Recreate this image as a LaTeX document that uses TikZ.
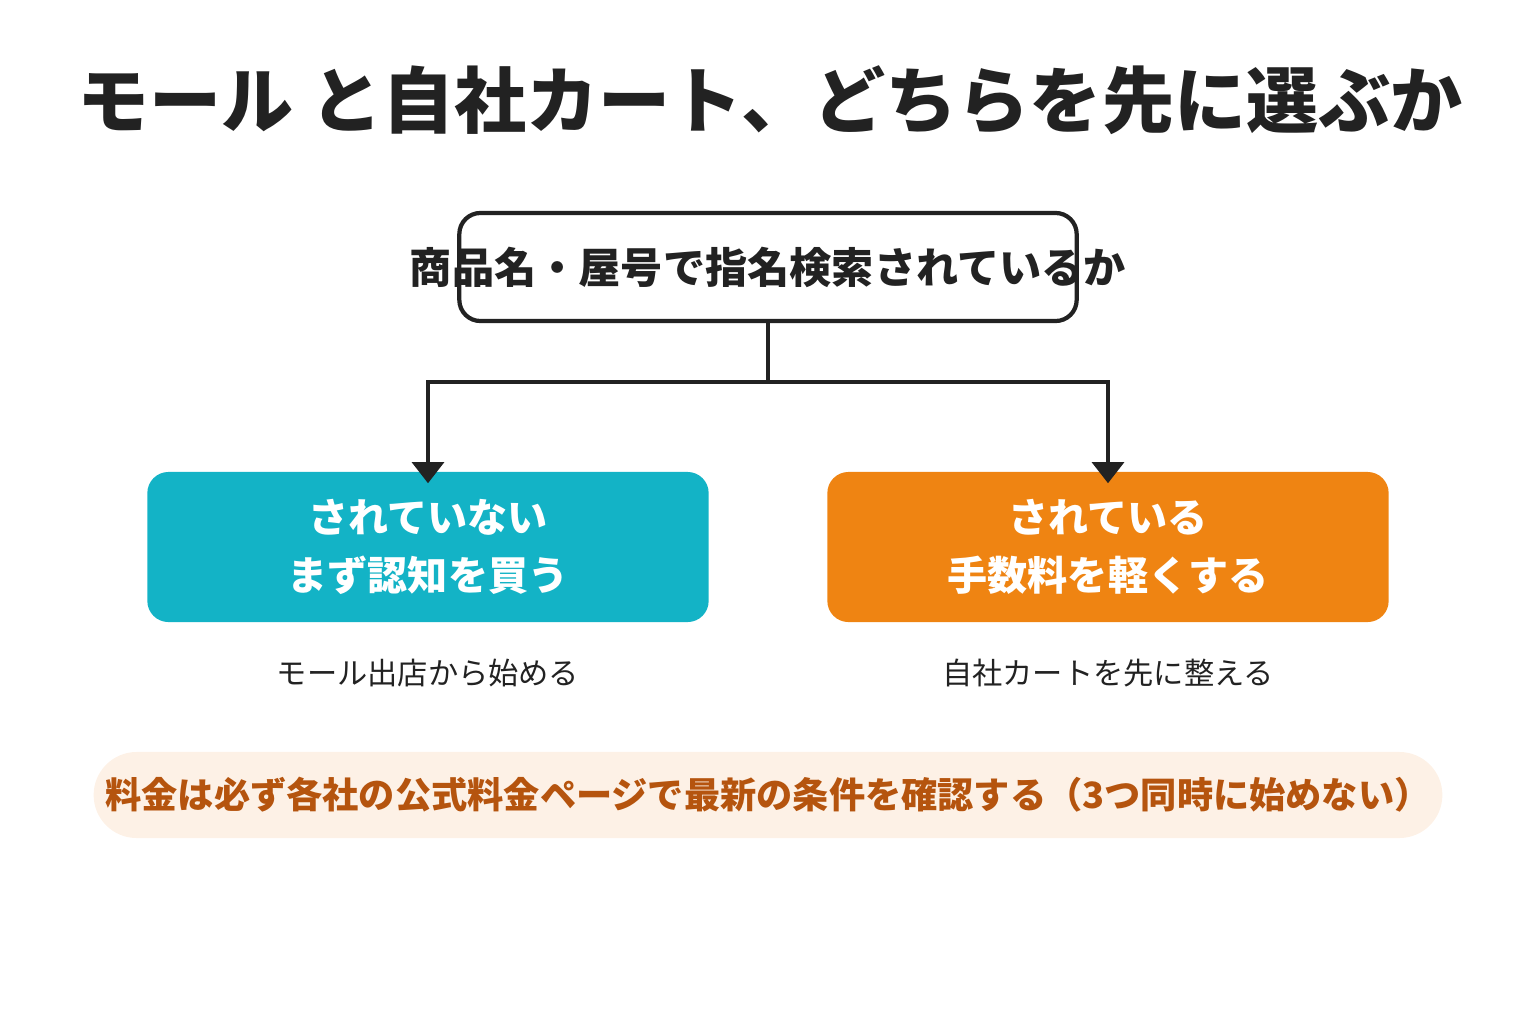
\documentclass[tikz,border=0pt]{standalone}
\usepackage{fontspec}
\setmainfont{Noto Sans CJK JP}
\usetikzlibrary{arrows.meta,positioning}
\definecolor{tealbox}{HTML}{13B3C6}
\definecolor{orangebox}{HTML}{EF8412}
\definecolor{notefill}{HTML}{FDF1E6}
\definecolor{notetext}{HTML}{B5540E}
\definecolor{ink}{HTML}{222222}

\tikzset{
  choice/.style={rounded corners=6pt, minimum width=5.61cm, minimum height=1.50cm,
    text=white, font=\fontsize{11.4}{16.4}\selectfont\bfseries, align=center},
  caption/.style={text=ink, font=\fontsize{8.6}{10}\selectfont},
  link/.style={very thick, draw=ink, -{Triangle[length=6pt,width=9pt]}}
}

\begin{document}
\begin{tikzpicture}[x=0.01cm,y=-0.01cm]
  \useasboundingbox (0,0) rectangle (1536,1024);

  \node[font=\fontsize{20.5}{24}\selectfont\bfseries, text=ink] (title) at (770,100) {モール と自社カート、どちらを先に選ぶか};

  \node[draw=ink, very thick, rounded corners=6pt, minimum width=6.17cm, minimum height=1.08cm] (question) at (768,267) {};
  \node[font=\fontsize{12}{14}\selectfont\bfseries, text=ink] (qtext) at (768,267) {商品名・屋号で指名検索されているか};

  \node[choice, fill=tealbox] (mall) at (428,547) {されていない\\まず認知を買う};
  \node[choice, fill=orangebox] (own) at (1108,547) {されている\\手数料を軽くする};

  \node[caption] (malltext) at (428,673) {モール出店から始める};
  \node[caption] (owntext) at (1108,673) {自社カートを先に整える};

  \coordinate (split) at (768,382);
  \draw[very thick, draw=ink] (question.south) -- (split);
  \draw[link] (split) -| ([yshift=-0.12cm]mall.north);
  \draw[link] (split) -| ([yshift=-0.12cm]own.north);

  \node[fill=notefill, rounded corners=0.43cm, minimum width=13.37cm, minimum height=0.86cm,
    text=notetext, font=\fontsize{10.3}{12}\selectfont\bfseries] (note) at (768,795)
    {料金は必ず各社の公式料金ページで最新の条件を確認する（3つ同時に始めない）};
\end{tikzpicture}
\end{document}
